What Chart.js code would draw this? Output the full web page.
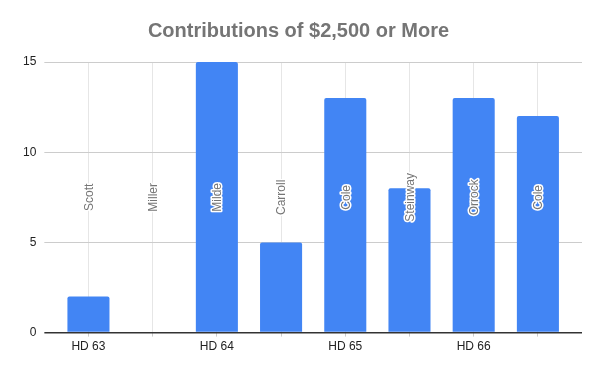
<!DOCTYPE html>
<html>
<head>
<meta charset="utf-8">
<script src="https://cdn.jsdelivr.net/npm/chart.js@4"></script>
<style>
  html, body { margin: 0; padding: 0; background: #fff; }
  #wrap { width: 600px; height: 371px; }
</style>
</head>
<body>
<div id="wrap"><canvas id="chart" width="600" height="371"></canvas></div>
<script>
const names = ["Scott", "Miller", "Milde", "Carroll", "Cole", "Steinway", "Orrock", "Cole"];
const districts = ["HD 63", "", "HD 64", "", "HD 65", "", "HD 66", ""];
const counts = [2, 0, 15, 5, 13, 8, 13, 12];
const yTicks = [0, 5, 10, 15];

// rotated name labels, centred in the plot area
const nameLabels = {
  id: "nameLabels",
  afterDatasetsDraw(chart) {
    const { ctx, chartArea, scales } = chart;
    const midY = (chartArea.top + chartArea.bottom) / 2;
    ctx.save();
    ctx.font = "12px 'Liberation Sans', Arial, sans-serif";
    ctx.textAlign = "center";
    ctx.textBaseline = "middle";
    ctx.lineJoin = "round";
    names.forEach((n, i) => {
      const x = scales.x.getPixelForValue(i);
      ctx.save();
      ctx.translate(x + 1, midY);
      ctx.rotate(-Math.PI / 2);
      ctx.strokeStyle = "#ffffff";
      ctx.lineWidth = 3;
      ctx.strokeText(n, 0, 0);
      ctx.fillStyle = "#757575";
      ctx.fillText(n, 0, 0);
      ctx.restore();
    });
    ctx.restore();
  }
};

const ctx = document.getElementById("chart");

new Chart(ctx, {
  type: "bar",
  data: {
    labels: districts,
    datasets: [
      {
        data: counts,
        backgroundColor: "#4285f4",
        borderRadius: { topLeft: 2, topRight: 2 },
        borderSkipped: "bottom",
        categoryPercentage: 1,
        barPercentage: 0.655,
      },
    ],
  },
  options: {
    responsive: false,
    animation: false,
    layout: { padding: { left: 15, right: 18, bottom: 14 } },
    plugins: {
      legend: { display: false },
      tooltip: { enabled: false },
      title: {
        display: true,
        text: "Contributions of $2,500 or More",
        color: "#757575",
        font: { family: "'Liberation Sans', Arial, sans-serif", size: 20, weight: "bold" },
        padding: { top: 19, bottom: 19 },
      },
    },
    scales: {
      x: {
        offset: true,
        border: { display: false },
        grid: {
          offset: false,
          color: "#e6e6e6",
          tickColor: "#cccccc",
          tickLength: 4,
        },
        ticks: {
          autoSkip: false,
          maxRotation: 0,
          padding: 3,
          color: "#222222",
          font: { family: "'Liberation Sans', Arial, sans-serif", size: 12 },
        },
      },
      y: {
        min: 0,
        max: 15,
        border: { display: false },
        afterBuildTicks: (s) => { s.ticks = yTicks.map((v) => ({ value: v })); },
        grid: {
          color: (c) => (c.tick && c.tick.value === 0 ? "#333333" : "#cccccc"),
          lineWidth: (c) => (c.tick && c.tick.value === 0 ? 1.5 : 1),
          tickLength: 12,
        },
        ticks: {
          padding: 8,
          color: "#222222",
          font: { family: "'Liberation Sans', Arial, sans-serif", size: 12 },
        },
      },
      y2: {
        position: "right",
        min: 0,
        max: 15,
        border: { display: false },
        afterBuildTicks: (s) => { s.ticks = yTicks.map((v) => ({ value: v })); },
        grid: {
          drawOnChartArea: false,
          color: (c) => (c.tick && c.tick.value === 0 ? "#333333" : "#cccccc"),
          lineWidth: (c) => (c.tick && c.tick.value === 0 ? 1.5 : 1),
          tickLength: 12,
        },
        ticks: { display: false, padding: 0 },
      },
    },
  },
  plugins: [nameLabels],
});
</script>
</body>
</html>
